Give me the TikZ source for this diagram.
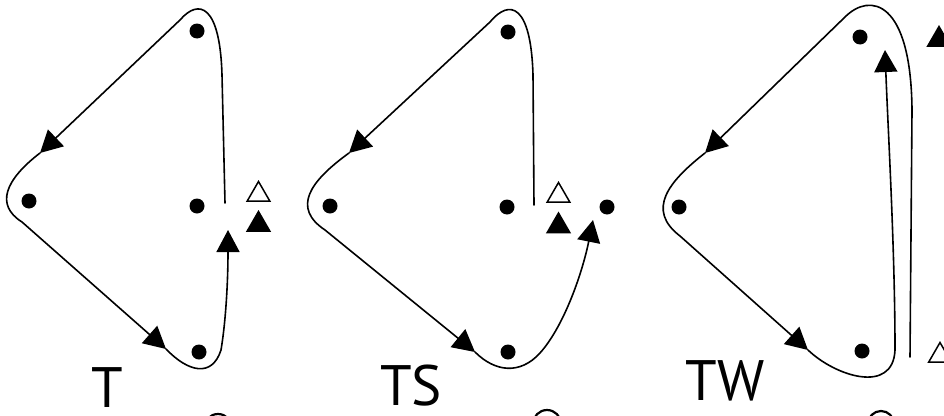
\documentclass[tikz,border=0pt]{standalone}
\usepackage{fontspec}
\setmainfont{PT Sans}
\usetikzlibrary{arrows.meta,shapes.geometric}
\begin{document}
\begin{tikzpicture}[x=1pt,y=-1pt,
  dot/.style={circle,fill=black,inner sep=0pt,minimum size=15pt},
  opentri/.style={regular polygon,regular polygon sides=3,draw=black,line width=1.5pt,fill=white,inner sep=0pt,minimum size=26pt},
  filltri/.style={regular polygon,regular polygon sides=3,fill=black,inner sep=0pt,minimum size=29pt},
  wire/.style={line width=1.6pt,line cap=round},
  arr/.style={wire,-{Triangle[length=22pt,width=23pt]}},
  lbl/.style={font=\fontsize{57}{60}\selectfont,inner sep=0pt,anchor=base},
  frag/.style={line width=2.2pt}]
\useasboundingbox (0,0) rectangle (944,415);
\clip (0,0) rectangle (944,415);
\fill[white] (0,0) rectangle (944,415);

% ---------- Panel T ----------
\node[dot] (ta) at (197,31) {};
\node[dot] (tb) at (29,201) {};
\node[dot] (tc) at (197,206) {};
\node[dot] (td) at (199,352) {};
\node[opentri] (tu) at (258.5,194.5) {};
\node[filltri] (tf) at (258.5,224.5) {};
\coordinate (t0) at (225,203);
\coordinate (t1) at (40,153);
\coordinate (t2) at (166,349);
\coordinate (t3) at (228,230);
\draw[arr] (t0) -- (222,75) .. controls (220,5) and (199,-2) .. (180,20) -- (t1);
\draw[arr] (t1) .. controls (5,180) and (-5,205) .. (22,222) -- (t2);
\draw[arr] (t2) .. controls (188,372) and (212,378) .. (221,350) .. controls (226,320) and (228,280) .. (t3);
\node[lbl] (lt) at (107,407) {T};

% ---------- Panel TS ----------
\node[dot] (sa) at (508,32) {};
\node[dot] (sb) at (330,206) {};
\node[dot] (sc) at (507,207) {};
\node[dot] (se) at (607,207) {};
\node[dot] (sd) at (508,352) {};
\node[opentri] (su) at (558.5,195.5) {};
\node[filltri] (sf) at (558.5,226) {};
\coordinate (s0) at (534,205);
\coordinate (s1) at (349,153);
\coordinate (s2) at (475,352);
\coordinate (s3) at (593,220);
\draw[arr] (s0) -- (533,75) .. controls (531,5) and (510,-2) .. (490,22) -- (s1);
\draw[arr] (s1) .. controls (309,182) and (292,208) .. (325,230) -- (s2);
\draw[arr] (s2) .. controls (495,372) and (520,375) .. (540,353) .. controls (565,325) and (583,270) .. (s3);
\node[lbl] (ls) at (411,405) {TS};

% ---------- Panel TW ----------
\node[dot] (wa) at (860,37) {};
\node[dot] (wb) at (679,207) {};
\node[dot] (wd) at (862,351) {};
\node[filltri] (wf) at (939,39.5) {};
\node[opentri] (wu) at (940,355.5) {};
\coordinate (w0) at (910,357);
\coordinate (w1) at (705,153);
\coordinate (w2) at (808,350);
\coordinate (w3) at (885,50);
\draw[arr] (w0) -- (912,110) .. controls (911,0) and (870,-8) .. (845,17) -- (w1);
\draw[arr] (w1) .. controls (668,182) and (646,210) .. (680,236) -- (w2);
\draw[arr] (w2) .. controls (835,376) and (893,395) .. (895,350) .. controls (895,250) and (888,130) .. (w3);
\node[lbl] (lw) at (725,400) {TW};

% ---------- fragments cut by the lower edge ----------
\draw[frag] (218,428) circle (14);
\draw[frag] (547,424) circle (14);
\draw[frag] (881,424) circle (13);
\end{tikzpicture}
\end{document}
